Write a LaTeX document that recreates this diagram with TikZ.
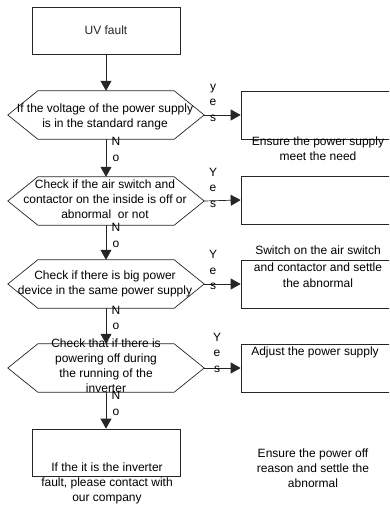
\documentclass[tikz,border=0pt]{standalone}
\usepackage{fontspec}
\setmainfont{Liberation Sans}
\usetikzlibrary{arrows.meta, positioning}

\begin{document}
\begin{tikzpicture}[
    x=1pt, y=-1pt, font=\fontsize{12}{15}\selectfont,
    line/.style={line width=0.7pt, black!85},
    box/.style={draw, line, minimum width=148pt, minimum height=47pt, inner sep=0pt},
    sidebox/.style={draw, line, minimum width=160pt, minimum height=48pt, inner sep=0pt},
    hexa/.style={minimum width=196pt, minimum height=48pt, inner sep=0pt},
    txt/.style={align=center, inner sep=0pt},
    flow/.style={line, -{Triangle[length=10pt, width=11pt]}},
    tag/.style={align=center, inner sep=0pt, font=\fontsize{12}{15.5}\selectfont},
  ]
  \clip (0,0) rectangle (389,510);
  % ---- left column ----
  \node[box] (start) at (106,30.5) {UV fault};
  \node[hexa] (q1) at (106,115) {};
  \node[hexa] (q2) at (106,201) {};
  \node[hexa] (q3) at (106,284) {};
  \node[hexa] (q4) at (106,368) {};
  \node[box] (fin) at (106,452.5) {};
  \foreach \n in {q1,q2,q3,q4}{
    \draw[line] ([xshift=30pt]\n.north west) -- ([xshift=-30pt]\n.north east) -- (\n.east)
      -- ([xshift=-30pt]\n.south east) -- ([xshift=30pt]\n.south west) -- (\n.west) -- cycle;}
  % ---- right column ----
  \node[sidebox] (r1) at (321,115) {};
  \node[sidebox] (r2) at (321,200) {};
  \node[sidebox] (r3) at (321,284) {};
  \node[sidebox] (r4) at (321,368) {};
  % ---- texts ----
  \node[txt] (t1) at (105,116.5) {If the voltage of the power supply\\is in the standard range};
  \node[txt] (t2) at (105,199) {Check if the air switch and\\contactor on the inside is off or\\abnormal\ \ or not};
  \node[txt] (t3) at (105,283.5) {Check if there is big power\\device in the same power supply};
  \node[txt] (t4) at (106,366) {Check that if there is\\powering off during\\the running of the\\inverter};
  \node[txt] (tf) at (107,483) {If the it is the inverter\\fault, please contact with\\our company};
  \node[txt] (s1) at (318,148.5) {Ensure the power supply\\meet the need};
  \node[txt, font=\fontsize{12}{16.5}\selectfont] (s2) at (318,267) {Switch on the air switch\\and contactor and settle\\the abnormal};
  \node[txt] (s4) at (315,352) {Adjust the power supply};
  \node[txt] (s5) at (313,468) {Ensure the power off\\reason and settle the\\abnormal};
  % ---- flow ----
  \draw[flow] (start) -- (q1);
  \draw[flow] (q1) -- (q2);
  \draw[flow] (q2) -- (q3);
  \draw[flow] (q3) -- (q4);
  \draw[flow] (q4) -- (fin);
  \foreach \i in {1,2,3,4}{\draw[flow] (q\i.east) -- (r\i.west);}
  % ---- yes / no ----
  \node[tag] (y1) at (213,102.7) {y\\e\\s};
  \node[tag] (y2) at (213,187.7) {Y\\e\\s};
  \node[tag] (y3) at (213,270.3) {Y\\e\\s};
  \node[tag] (y4) at (217,352.7) {Y\\e\\s};
  \node[tag] (n1) at (116,149.5) {N\\o};
  \node[tag] (n2) at (116,235.5) {N\\o};
  \node[tag] (n3) at (116,318) {N\\o};
  \node[tag] (n4) at (116,403.5) {N\\o};
\end{tikzpicture}
\end{document}
